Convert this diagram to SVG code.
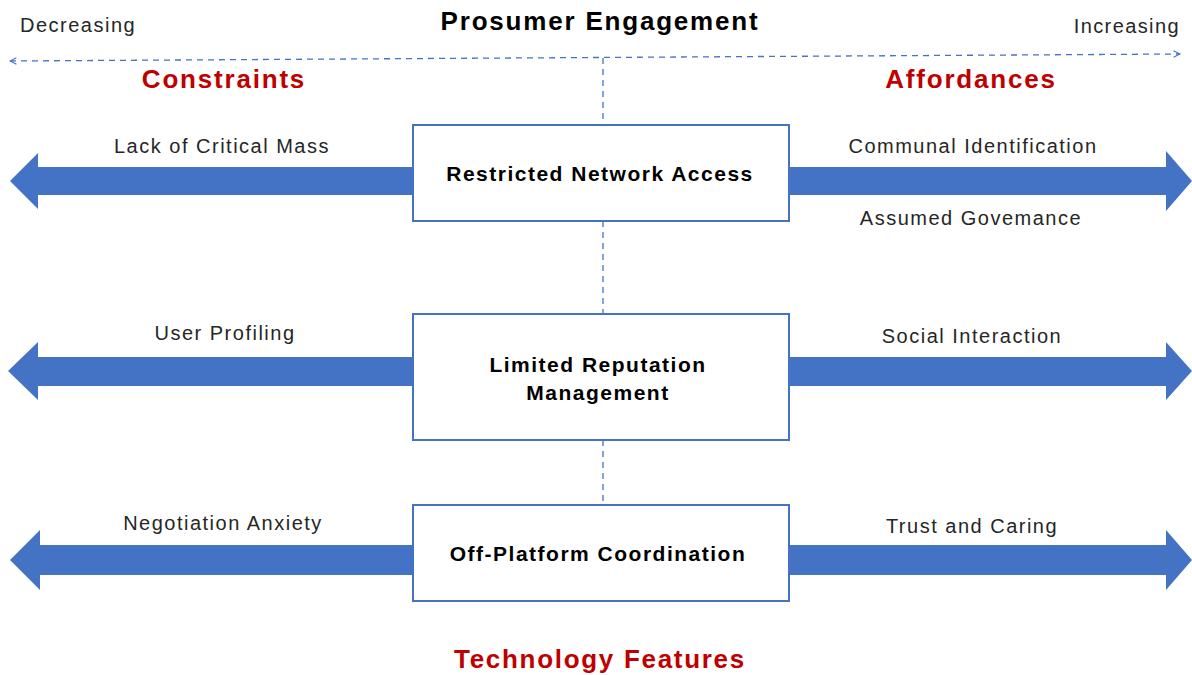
<svg xmlns="http://www.w3.org/2000/svg" width="1192" height="675" viewBox="0 0 1192 675">
<defs>
<marker id="open" viewBox="0 0 10 10" refX="9" refY="5" markerWidth="8" markerHeight="8" orient="auto-start-reverse" markerUnits="userSpaceOnUse">
<path d="M1,1 L9,5 L1,9" fill="none" stroke="#4472C4" stroke-width="1.3"/>
</marker>
</defs>
<style>
.lbl{font-family:"Liberation Sans",Arial,sans-serif;font-size:20px;letter-spacing:1.5px;fill:#262626;text-anchor:middle}
.node rect{fill:#fff;stroke:#4472C4;stroke-width:2}
.node text{font-family:"Liberation Sans",Arial,sans-serif;font-size:21px;letter-spacing:1.5px;font-weight:bold;fill:#000;text-anchor:middle}
.red{font-family:"Liberation Sans",Arial,sans-serif;font-size:26px;letter-spacing:1.8px;font-weight:bold;fill:#C00000;text-anchor:middle}
.dash{stroke:#4472C4;stroke-width:1.3;stroke-dasharray:6,5;fill:none}
.arr{fill:#4472C4}
</style>
<rect width="1192" height="675" fill="#fff"/>
<text x="20" y="32" class="lbl" style="text-anchor:start">Decreasing</text>
<text x="1180" y="33" class="lbl" style="text-anchor:end;letter-spacing:1.4px">Increasing</text>
<text x="600" y="30" style="font-family:'Liberation Sans',Arial,sans-serif;font-size:26px;letter-spacing:1.8px;font-weight:bold;fill:#000;text-anchor:middle">Prosumer Engagement</text>
<text x="224" y="88" class="red">Constraints</text>
<text x="971" y="88" class="red">Affordances</text>
<text x="600" y="668" class="red" style="letter-spacing:1.7px">Technology Features</text>
<g id="connectors">
<line x1="10" y1="61" x2="1180" y2="54" class="dash" marker-start="url(#open)" marker-end="url(#open)"/>
<line x1="603" y1="58" x2="603" y2="125" class="dash"/>
<line x1="603" y1="221" x2="603" y2="314" class="dash"/>
<line x1="603" y1="440" x2="603" y2="505" class="dash"/>
<polygon class="arr" points="413,167 38,167 38,153 10,181 38,209 38,195 413,195"/>
<polygon class="arr" points="789,167 1166,167 1166,151 1192,181 1166,211 1166,195 789,195"/>
<polygon class="arr" points="413,357 38,357 38,342 8,371 38,400 38,386 413,386"/>
<polygon class="arr" points="789,357 1166,357 1166,342 1192,371 1166,400 1166,386 789,386"/>
<polygon class="arr" points="413,545 40,545 40,530 10,560 40,590 40,575 413,575"/>
<polygon class="arr" points="789,545 1166,545 1166,530 1192,560 1166,590 1166,575 789,575"/>
</g>
<text x="222" y="153" class="lbl">Lack of Critical Mass</text>
<text x="973" y="153" class="lbl">Communal Identification</text>
<text x="971" y="225" class="lbl">Assumed Govemance</text>
<text x="225" y="340" class="lbl">User Profiling</text>
<text x="972" y="343" class="lbl">Social Interaction</text>
<text x="223" y="530" class="lbl">Negotiation Anxiety</text>
<text x="972" y="533" class="lbl">Trust and Caring</text>
<g id="node-restricted" class="node">
<rect x="413" y="125" width="376" height="96"/>
<text x="600" y="181">Restricted Network Access</text>
</g>
<g id="node-reputation" class="node">
<rect x="413" y="314" width="376" height="126"/>
<text x="598" y="372">Limited Reputation</text>
<text x="598" y="400">Management</text>
</g>
<g id="node-offplatform" class="node">
<rect x="413" y="505" width="376" height="96"/>
<text x="598" y="561">Off-Platform Coordination</text>
</g>
</svg>
